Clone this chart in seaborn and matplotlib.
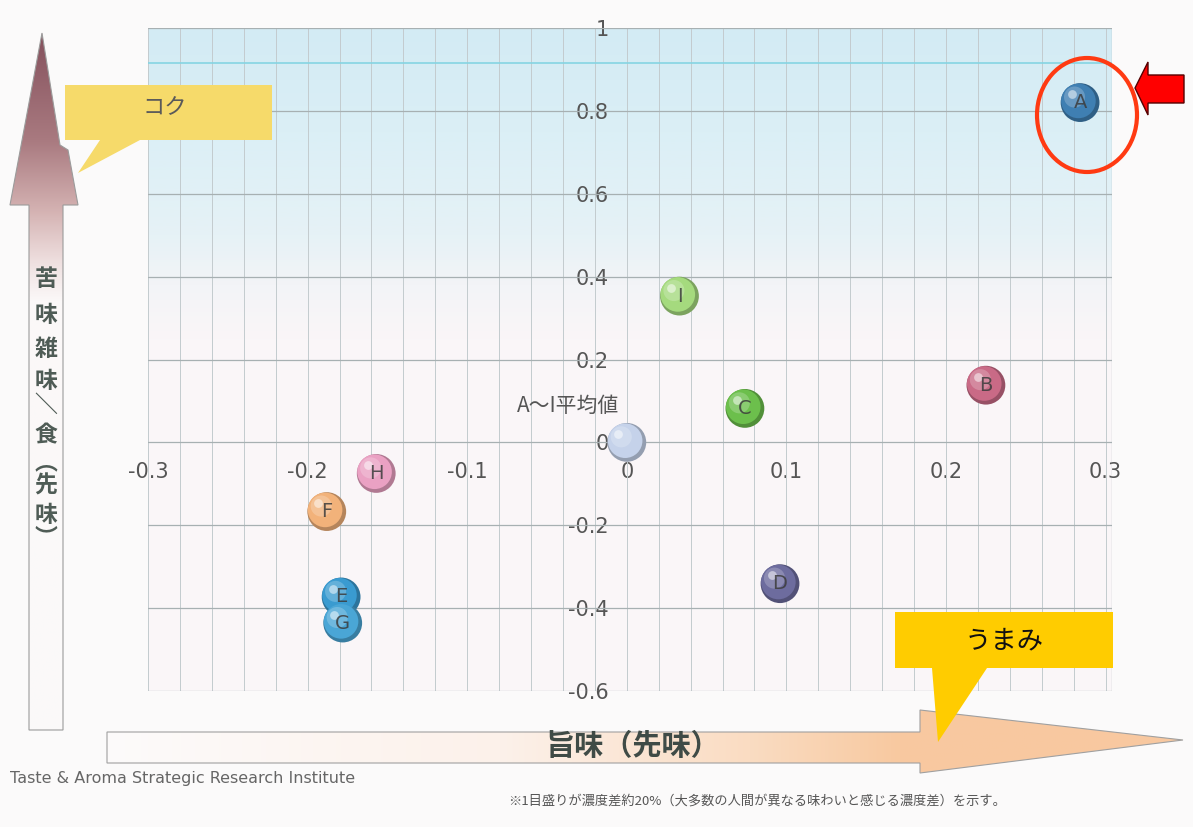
import numpy as np
import pandas as pd
import matplotlib
matplotlib.use("Agg")
import matplotlib.pyplot as plt
import seaborn as sns
from matplotlib.patches import Polygon, Ellipse
from matplotlib.colors import to_rgb
from matplotlib.ticker import FixedLocator, FixedFormatter
from matplotlib.transforms import ScaledTranslation

# ---------------- data ----------------
labels = ["A", "B", "C", "D", "E", "F", "G", "H", "I", "A～I平均値"]
x_vals = [0.284, 0.225, 0.074, 0.096, -0.179, -0.188, -0.178, -0.157, 0.033, 0.0]
y_vals = [0.820, 0.138, 0.082, -0.341, -0.373, -0.167, -0.436, -0.075, 0.353, 0.0]
point_text = ["A", "B", "C", "D", "E", "F", "G", "H", "I", ""]
point_colors = ["#3f7fb2", "#c96a86", "#6cbf4c", "#6d6c9e", "#3a9bd0",
                "#f2b27a", "#4aa6d6", "#eaa1c3", "#a5da7e", "#c5d2ea"]

x_ticks = [-0.3, -0.2, -0.1, 0.0, 0.1, 0.2, 0.3]
x_tick_labels = ["-0.3", "-0.2", "-0.1", "0", "0.1", "0.2", "0.3"]
y_ticks = [-0.6, -0.4, -0.2, 0.0, 0.2, 0.4, 0.6, 0.8, 1.0]
y_tick_labels = ["-0.6", "-0.4", "-0.2", "0", "0.2", "0.4", "0.6", "0.8", "1"]

x_title = "旨味（先味）"
y_title_chars = ["苦", "味", "雑", "味", "＼", "食", "︵", "先", "味", "︶"]
callout_top = "コク"
callout_bottom = "うまみ"
credit = "Taste & Aroma Strategic Research Institute"
footnote = "※1目盛りが濃度差約20%（大多数の人間が異なる味わいと感じる濃度差）を示す。"

df = pd.DataFrame({"label": labels, "x": x_vals, "y": y_vals})

# ---------------- style ----------------
sns.set_theme(style="white")
plt.rcParams["font.family"] = ["Noto Sans CJK JP", "DejaVu Sans"]

W, H = 1193, 827
fig = plt.figure(figsize=(W / 100, H / 100), dpi=100)
fig.patch.set_facecolor("#fbfafa")


def px(x0, y0, x1, y1):
    return [x0 / W, 1 - y1 / H, (x1 - x0) / W, (y1 - y0) / H]


ax = fig.add_axes(px(148, 28, 1112, 691))


def mix(c1, c2, t):
    a = np.array(to_rgb(c1)); b = np.array(to_rgb(c2))
    return tuple(a + (b - a) * t)


# background gradient (vertical)
yy = np.linspace(1.0, -0.6, 400)
stops_y = [1.0, 0.75, 0.5, 0.38, 0.25, -0.6]
stops_c = ["#d3ebf4", "#dbeff6", "#e6f2f6", "#f3f4f7", "#faf6f8", "#fbf7f9"]
rgb = np.array([to_rgb(c) for c in stops_c])
grad = np.stack([np.interp(-yy, [-s for s in stops_y], rgb[:, k]) for k in range(3)], axis=-1)
ax.imshow(grad[:, None, :], extent=(-0.3, 0.304, -0.6, 1.0), aspect="auto", zorder=0,
          interpolation="bilinear")
ax.set_facecolor("#fbf7f9")

# points (sphere look)
pal = dict(zip(labels, [mix(c, "#000000", 0.25) for c in point_colors]))
sns.scatterplot(data=df, x="x", y="y", hue="label", palette=pal, s=780, linewidth=0,
                legend=False, ax=ax, zorder=5)
off1 = ax.transData + ScaledTranslation(-1.2 / 72, 1.2 / 72, fig.dpi_scale_trans)
off2 = ax.transData + ScaledTranslation(-4 / 72, 4 / 72, fig.dpi_scale_trans)
off3 = ax.transData + ScaledTranslation(-6 / 72, 6 / 72, fig.dpi_scale_trans)
ax.scatter(df["x"], df["y"], s=620, c=point_colors, linewidths=0, transform=off1, zorder=6)
ax.scatter(df["x"], df["y"], s=230, c=[mix(c, "#ffffff", 0.3) for c in point_colors],
           alpha=0.7, linewidths=0, transform=off2, zorder=7)
ax.scatter(df["x"], df["y"], s=40, c="white", alpha=0.5, linewidths=0,
           transform=off3, zorder=8)
for xv, yv, t in zip(x_vals, y_vals, point_text):
    if t:
        ax.text(xv, yv, t, ha="center", va="center", fontsize=14, color="#3c3c3c",
                alpha=0.85, zorder=9, fontfamily="DejaVu Sans")
ax.annotate(labels[-1], (x_vals[-1], y_vals[-1]), xytext=(-42, 26),
            textcoords="offset points", ha="center", va="center", fontsize=15,
            color="#555555", zorder=9)

ax.set_xlim(-0.3, 0.304)
ax.set_ylim(-0.6, 1.0)

# grid
for xv in np.arange(-0.3, 0.3041, 0.02):
    ax.axvline(xv, color="#c3cbce", lw=0.7, zorder=1)
for yv in y_ticks:
    ax.axhline(yv, color="#a7b0b2", lw=0.9, zorder=1)
ax.axhline(0.915, color="#85d4e3", lw=1.2, zorder=1)
ax.axvline(0.304, color="#a7b0b2", lw=0.9, zorder=1)

for s in ax.spines.values():
    s.set_visible(False)
ax.spines["left"].set_position(("data", 0))
ax.spines["bottom"].set_position(("data", 0))
ax.xaxis.set_major_locator(FixedLocator(x_ticks))
ax.xaxis.set_major_formatter(FixedFormatter(x_tick_labels))
ax.yaxis.set_major_locator(FixedLocator(y_ticks))
ax.yaxis.set_major_formatter(FixedFormatter(y_tick_labels))
ax.tick_params(axis="x", length=0, pad=14, labelsize=15, labelcolor="#555555")
ax.tick_params(axis="y", length=0, pad=13, labelsize=15, labelcolor="#555555")
for t in ax.get_xticklabels() + ax.get_yticklabels():
    t.set_fontfamily("DejaVu Sans")
ax.set_xlabel("")
ax.set_ylabel("")

# ---------------- overlay decorations (pixel coords) ----------------
ov = fig.add_axes([0, 0, 1, 1], zorder=10)
ov.set_xlim(0, W)
ov.set_ylim(H, 0)
ov.axis("off")
ov.patch.set_alpha(0)

# left vertical arrow
larrow = Polygon([(42, 33), (60, 145), (68, 150), (78, 205), (63, 205), (63, 730),
                  (29, 730), (29, 205), (10, 205)], closed=True, fc="none",
                 ec="#9b9b9b", lw=0.8, zorder=3)
ov.add_patch(larrow)
ly = np.linspace(30, 735, 300)
lst_y = [30, 140, 210, 262, 300, 735]
lst_c = ["#84505c", "#a97a80", "#d4b2b2", "#efe0e0", "#fbf8f8", "#fbfafa"]
lrgb = np.array([to_rgb(c) for c in lst_c])
lgrad = np.stack([np.interp(ly, lst_y, lrgb[:, k]) for k in range(3)], axis=-1)
im = ov.imshow(lgrad[:, None, :], extent=(0, 90, 735, 30), aspect="auto", zorder=2,
               interpolation="bilinear")
im.set_clip_path(Polygon(larrow.get_xy(), closed=True, transform=ov.transData))
for ch, yc in zip(y_title_chars, [279, 315, 349, 382, 405, 436, 463, 486, 516, 538]):
    ov.text(46, yc, ch, ha="center", va="center", fontsize=16.5, color="#4f5c56",
            fontweight="bold", zorder=4)

# bottom horizontal arrow
barrow = Polygon([(107, 732), (920, 732), (920, 710), (1183, 740), (920, 773), (920, 763),
                  (107, 763)], closed=True, fc="none", ec="#a0a0a0", lw=0.8, zorder=3)
ov.add_patch(barrow)
bx = np.linspace(100, 1190, 400)
bst_x = [100, 500, 750, 900, 1190]
bst_c = ["#fdfbfb", "#fcf1ea", "#fadcc2", "#f8c9a0", "#f9c8a0"]
brgb = np.array([to_rgb(c) for c in bst_c])
bgrad = np.stack([np.interp(bx, bst_x, brgb[:, k]) for k in range(3)], axis=-1)
im2 = ov.imshow(bgrad[None, :, :], extent=(100, 1190, 780, 705), aspect="auto", zorder=2,
                interpolation="bilinear")
im2.set_clip_path(Polygon(barrow.get_xy(), closed=True, transform=ov.transData))
ov.text(633, 746, x_title, ha="center", va="center", fontsize=21, color="#3f4b46",
        fontweight="bold", zorder=4)

# callout コク
ov.add_patch(Polygon([(65, 85), (272, 85), (272, 140), (140, 140), (78, 173), (100, 140),
                      (65, 140)], closed=True, fc="#f6da6a", ec="none", zorder=5))
ov.text(165, 108, callout_top, ha="center", va="center", fontsize=16, color="#5a5a5a",
        zorder=6)

# callout うまみ
ov.add_patch(Polygon([(895, 612), (1113, 612), (1113, 668), (987, 668), (938, 742),
                      (932, 668), (895, 668)], closed=True, fc="#ffcc00", ec="none",
                     zorder=5))
ov.text(1004, 641, callout_bottom, ha="center", va="center", fontsize=19, color="#111111",
        zorder=6)

# red ellipse and arrow
ov.add_patch(Ellipse((1087, 115), 100, 114, fc="none", ec="#ff3a12", lw=3, zorder=7))
ov.add_patch(Polygon([(1135, 88), (1148, 62), (1148, 75), (1184, 75), (1184, 103),
                      (1148, 103), (1148, 115)], closed=True, fc="#ff0000", ec="#550000",
                     lw=1, zorder=7))

# credit and footnote
ov.text(10, 778, credit, ha="left", va="center", fontsize=11.5, color="#666666",
        fontfamily="DejaVu Sans", zorder=6)
ov.text(508, 801, footnote, ha="left", va="center", fontsize=9.5, color="#555555",
        zorder=6)

fig.savefig("out.png", dpi=100, facecolor=fig.get_facecolor())
